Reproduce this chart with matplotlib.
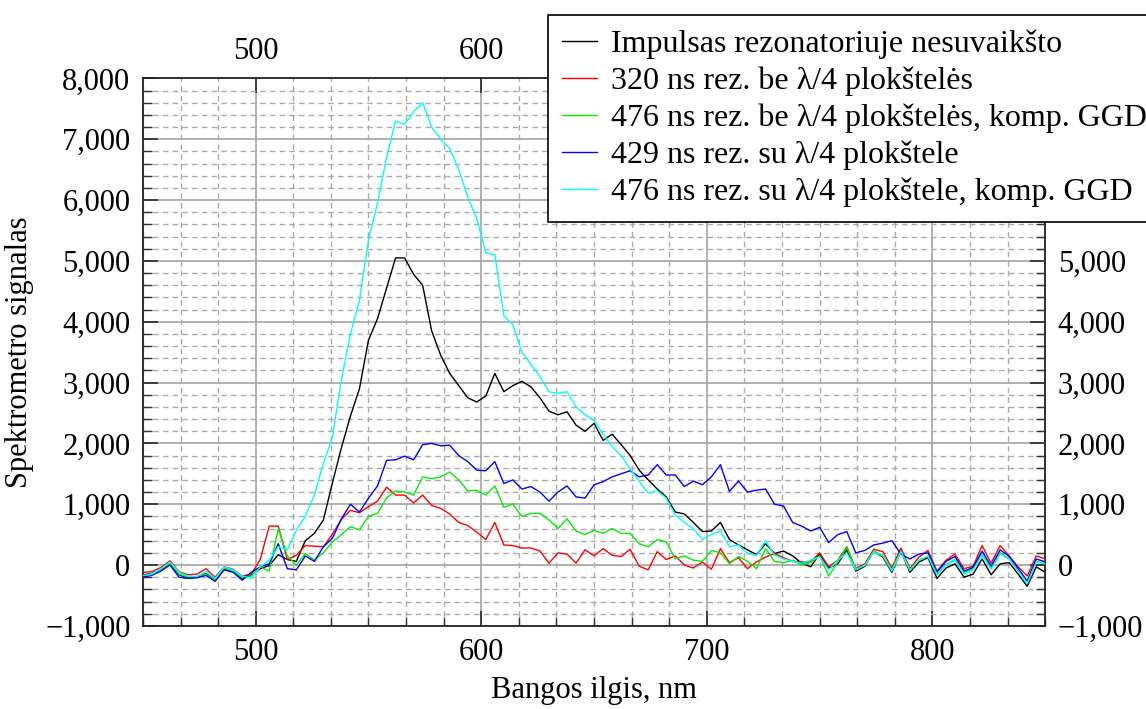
import matplotlib
matplotlib.use("Agg")
import matplotlib.pyplot as plt
from matplotlib.ticker import MultipleLocator, FuncFormatter, FixedLocator
import numpy as np

wavelength = list(range(450, 851, 4))

impulsas = [-160, -140, -80, 20, -160, -210, -200, -140, -250, -70, -110, -230, -170, -60, -10, 170,
            90, 60, 400, 520, 740, 1350, 1930, 2450, 2900, 3700, 4050, 4550, 5050, 5050, 4780, 4600,
            3850, 3450, 3150, 2950, 2750, 2680, 2780, 3150, 2850, 2950, 3020, 2930, 2750, 2530, 2470,
            2520, 2300, 2200, 2330, 2050, 2150, 1980, 1800, 1560, 1400, 1250, 1120, 870, 840, 700, 550,
            560, 700, 420, 330, 250, 170, 350, 190, 230, 150, 30, -30, 180, -50, 20, 250, -100, -20, 230,
            130, -120, 230, -120, 50, 120, -220, -50, 20, -200, -150, 100, -160, 20, 40, -150, -350, -30,
            -120]

rez320 = [-120, -110, -40, 70, -110, -160, -150, -60, -200, -30, -70, -180, -150, 90, 640, 640,
          90, 160, 320, 310, 300, 510, 750, 900, 860, 960, 1050, 1280, 1150, 1150, 1020, 1150, 980,
          930, 840, 700, 650, 540, 420, 700, 330, 320, 280, 280, 230, 30, 200, 180, 30, 250, 150, 270,
          160, 140, 260, -20, -80, 220, 90, 150, 0, -50, 50, -70, 270, 40, 120, -60, 50, 130, 190, 120,
          60, 50, 50, 200, -30, 80, 300, -60, 20, 260, 220, -50, 280, -60, 130, 240, -100, 80, 180, -60,
          -20, 320, 30, 320, 150, -30, -180, 150, 100]

rez476_be = [-190, -140, -90, 30, -150, -200, -190, -150, -250, -50, -100, -210, -180, -30, -100, 600,
             150, 0, 190, 80, 200, 380, 500, 630, 580, 800, 850, 1100, 1220, 1200, 1150, 1450, 1420,
             1450, 1530, 1400, 1220, 1230, 1150, 1300, 950, 1000, 800, 850, 850, 740, 600, 760, 560, 500,
             570, 520, 600, 520, 520, 350, 300, 420, 380, 100, 150, 80, 60, 240, 200, 20, 140, 60, -60,
             270, 60, 40, 80, 0, 40, 150, -180, 50, 300, -70, -10, 230, 160, -80, 230, -90, 80, 140, -160,
             10, 90, -120, -60, 170, -40, 200, 100, -80, -270, 60, 20]

rez429_su = [-200, -170, -100, 0, -200, -220, -210, -170, -270, -80, -120, -250, -120, -30, 20, 350,
             -60, -80, 150, 60, 300, 440, 760, 1000, 870, 1100, 1300, 1720, 1730, 1790, 1730, 1980, 2000,
             1960, 1970, 1800, 1700, 1560, 1550, 1700, 1340, 1400, 1250, 1290, 1200, 1050, 1200, 1300,
             1120, 1100, 1320, 1370, 1450, 1500, 1550, 1450, 1480, 1650, 1480, 1480, 1290, 1380, 1320,
             1450, 1650, 1210, 1380, 1200, 1230, 1250, 1000, 970, 700, 640, 560, 620, 370, 500, 550, 200,
             240, 330, 360, 400, 180, 100, 180, 200, -120, 60, 140, -100, -40, 230, -20, 250, 140, -60,
             -260, 100, 50]

rez476_su = [-170, -150, -60, 50, -120, -180, -190, -100, -220, -30, -80, -180, -220, -30, 80, 300,
             250, 570, 800, 1150, 1670, 2100, 3050, 3800, 4350, 5350, 5950, 6700, 7300, 7250, 7450, 7600,
             7200, 7000, 6850, 6500, 6050, 5700, 5130, 5100, 4100, 3950, 3500, 3300, 3100, 2850, 2820,
             2850, 2600, 2470, 2380, 2150, 1950, 1800, 1580, 1380, 1180, 1220, 1100, 820, 700, 600, 420,
             500, 560, 300, 330, 190, 160, 400, 160, 100, 60, 30, 80, 130, -80, 80, 200, -80, 0, 220, 150,
             -100, 220, -80, 80, 150, -150, 0, 80, -150, -80, 160, -70, 180, 100, -100, -300, 50, 20]

labels = ["Impulsas rezonatoriuje nesuvaikšto",
          "320 ns rez. be λ/4 plokštelės",
          "476 ns rez. be λ/4 plokštelės, komp. GGD",
          "429 ns rez. su λ/4 plokštele",
          "476 ns rez. su λ/4 plokštele, komp. GGD"]
series = [impulsas, rez320, rez476_be, rez429_su, rez476_su]
colors = ["#000000", "#ff0000", "#00ee00", "#0000ff", "#00ffff"]

plt.rcParams['font.family'] = ['Liberation Serif', 'DejaVu Serif']

fig = plt.figure(figsize=(11.46, 7.09), dpi=100)
ax = fig.add_axes([0.1247, 0.1173, 0.9121 - 0.1247, 0.8893 - 0.1173])

for s, c, lab in zip(series, colors, labels):
    ax.plot(wavelength, s, color=c, lw=1.0, label=lab, zorder=3)

ax.set_xlim(450, 850)
ax.set_ylim(-1000, 8000)

ax.xaxis.set_major_locator(MultipleLocator(100))
ax.xaxis.set_minor_locator(FixedLocator([450 + 100 * k / 6 for k in range(25)]))
ax.yaxis.set_major_locator(MultipleLocator(1000))
ax.yaxis.set_minor_locator(MultipleLocator(200))

fmt = FuncFormatter(lambda v, p: f"{int(round(v)):,}".replace('-', '\u2212'))
ax.yaxis.set_major_formatter(fmt)

ax.grid(which='major', color='#aaaaaa', lw=1.3, ls='-', zorder=0)
ax.grid(which='minor', color='#aaaaaa', lw=1.0, ls=(0, (4, 3)), zorder=0)
ax.set_axisbelow(True)

ax.tick_params(which='major', direction='in', length=11, width=1.3, labelsize=22,
               top=True, right=True, labeltop=True, labelright=True, pad=9, color='#333333')
ax.tick_params(which='minor', direction='in', length=6.5, width=1.0,
               top=False, right=True, bottom=True, left=True, color='#333333')
for sp in ax.spines.values():
    sp.set_linewidth(1.3)
    sp.set_color('#222222')

ax.set_xlabel("Bangos ilgis, nm", fontsize=22, labelpad=6)
ax.set_ylabel("Spektrometro signalas", fontsize=22, labelpad=8)

leg = fig.legend(loc='upper left', bbox_to_anchor=(0.478, 0.979), fontsize=23,
                 frameon=True, fancybox=False, framealpha=1, edgecolor='black',
                 handlelength=1.1, handletextpad=0.42, labelspacing=0.24, borderpad=0.45,
                 borderaxespad=0)
leg.get_frame().set_linewidth(1.2)

fig.savefig("out.png", dpi=100)
